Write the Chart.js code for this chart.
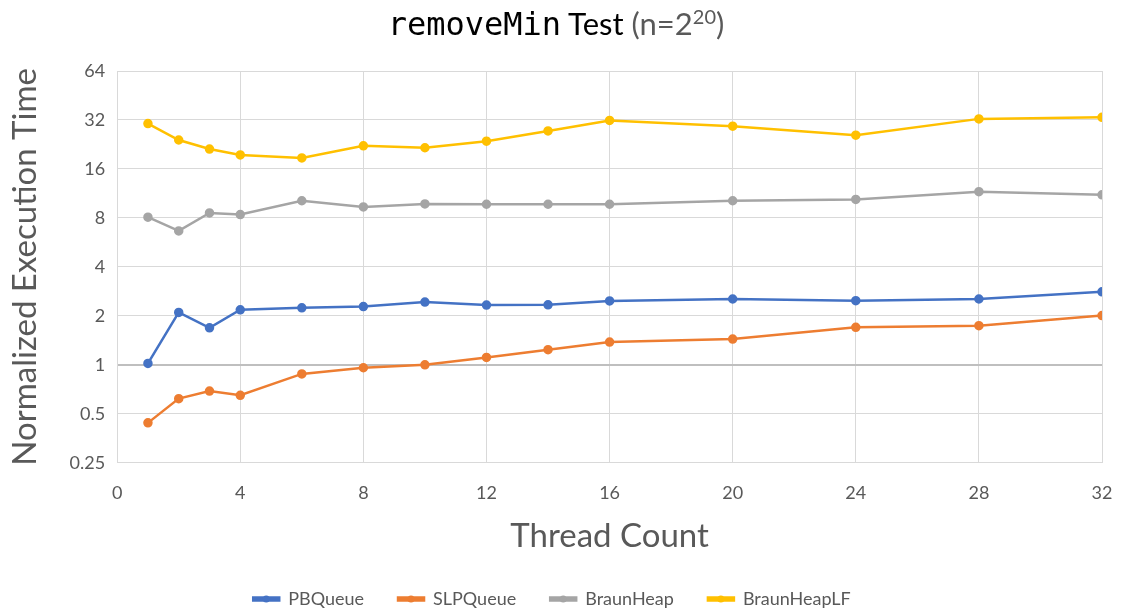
<!DOCTYPE html>
<html>
<head>
<meta charset="utf-8">
<script src="https://cdn.jsdelivr.net/npm/chart.js@4"></script>
<style>
  html, body { margin: 0; padding: 0; background: #fff; }
  #wrap { position: relative; width: 1124px; height: 612px; }
  #title {
    position: absolute; top: 4px; left: -6px; width: 1124px; text-align: center;
    font-family: Lato, "Open Sans", sans-serif; font-size: 31px; color: #000;
  }
  #title code { font-family: "DejaVu Sans Mono", monospace; font-size: 32px; }
  #title .p { color: #595959; }
  #title sup { font-size: 20px; }
</style>
</head>
<body>
<div id="wrap">
  <canvas id="chart" width="1124" height="612"></canvas>
  <div id="title"><code>removeMin</code> Test <span class="p">(n=2<sup>20</sup>)</span></div>
</div>
<script>
const threads = [1, 2, 3, 4, 6, 8, 10, 12, 14, 16, 20, 24, 28, 32];
const pbQueue = [1.02, 2.10, 1.69, 2.18, 2.24, 2.28, 2.43, 2.33, 2.34, 2.47, 2.54, 2.48, 2.54, 2.81];
const slpQueue = [0.44, 0.62, 0.69, 0.65, 0.88, 0.96, 1.00, 1.11, 1.24, 1.38, 1.44, 1.70, 1.74, 2.01];
const braunHeap = [8.08, 6.66, 8.59, 8.39, 10.2, 9.35, 9.75, 9.71, 9.71, 9.71, 10.2, 10.4, 11.6, 11.1];
const braunHeapLF = [30.4, 24.1, 21.2, 19.5, 18.7, 22.2, 21.6, 23.7, 27.4, 31.8, 29.3, 25.8, 32.5, 33.2];
const yTicks = [0.25, 0.5, 1, 2, 4, 8, 16, 32, 64];

const font = "Lato, 'Open Sans', sans-serif";
const textColor = "#595959";

function series(label, values, color) {
  return {
    label,
    data: threads.map((t, i) => ({ x: t, y: values[i] })),
    borderColor: color,
    backgroundColor: color,
    borderWidth: 2.5,
    pointRadius: 3.5,
    pointHoverRadius: 3.5,
    tension: 0
  };
}

// put a dot in the middle of each legend line
const legendDots = {
  id: "legendDots",
  afterDraw(chart) {
    const lg = chart.legend;
    if (!lg || !lg.legendHitBoxes) return;
    const ctx = chart.ctx;
    lg.legendHitBoxes.forEach((box, i) => {
      const bw = lg.options.labels.boxWidth;
      ctx.save();
      ctx.fillStyle = chart.data.datasets[i].borderColor;
      ctx.beginPath();
      ctx.arc(box.left + bw / 2, box.top + box.height / 2, 3.5, 0, Math.PI * 2);
      ctx.fill();
      ctx.restore();
    });
  }
};

new Chart(document.getElementById("chart"), {
  type: "line",
  data: {
    datasets: [
      series("PBQueue", pbQueue, "#4472C4"),
      series("SLPQueue", slpQueue, "#ED7D31"),
      series("BraunHeap", braunHeap, "#A5A5A5"),
      series("BraunHeapLF", braunHeapLF, "#FFC000")
    ]
  },
  options: {
    responsive: false,
    animation: false,
    layout: { padding: { top: 71, right: 22, left: 2, bottom: -6 } },
    plugins: {
      title: { display: false },
      tooltip: { enabled: false },
      legend: {
        position: "bottom",
        labels: {
          font: { family: font, size: 18 },
          color: textColor,
          boxWidth: 26,
          boxHeight: 3,
          padding: 34
        }
      }
    },
    scales: {
      x: {
        type: "linear",
        min: 0,
        max: 32,
        ticks: { stepSize: 4, font: { family: font, size: 18 }, color: textColor, padding: 8 },
        grid: { color: "#d9d9d9", drawTicks: true, tickLength: 12, tickColor: "rgba(0,0,0,0)" },
        border: { color: "#d9d9d9" },
        title: {
          display: true, text: "Thread Count",
          font: { family: font, size: 33 }, color: textColor, padding: { top: 4, bottom: 0 }
        }
      },
      y: {
        type: "logarithmic",
        min: 0.25,
        max: 64,
        afterBuildTicks: scale => { scale.ticks = yTicks.map(v => ({ value: v })); },
        ticks: {
          font: { family: font, size: 18 }, color: textColor, padding: 12,
          callback: v => String(v)
        },
        grid: {
          color: ctx => (ctx.tick && ctx.tick.value === 1 ? "#bfbfbf" : "#d9d9d9"),
          lineWidth: ctx => (ctx.tick && ctx.tick.value === 1 ? 2 : 1),
          drawTicks: false
        },
        border: { color: "#d9d9d9" },
        title: {
          display: true, text: "Normalized Execution Time",
          font: { family: font, size: 33 }, color: textColor, padding: { bottom: 12 }
        }
      }
    }
  },
  plugins: [legendDots]
});
</script>
</body>
</html>
